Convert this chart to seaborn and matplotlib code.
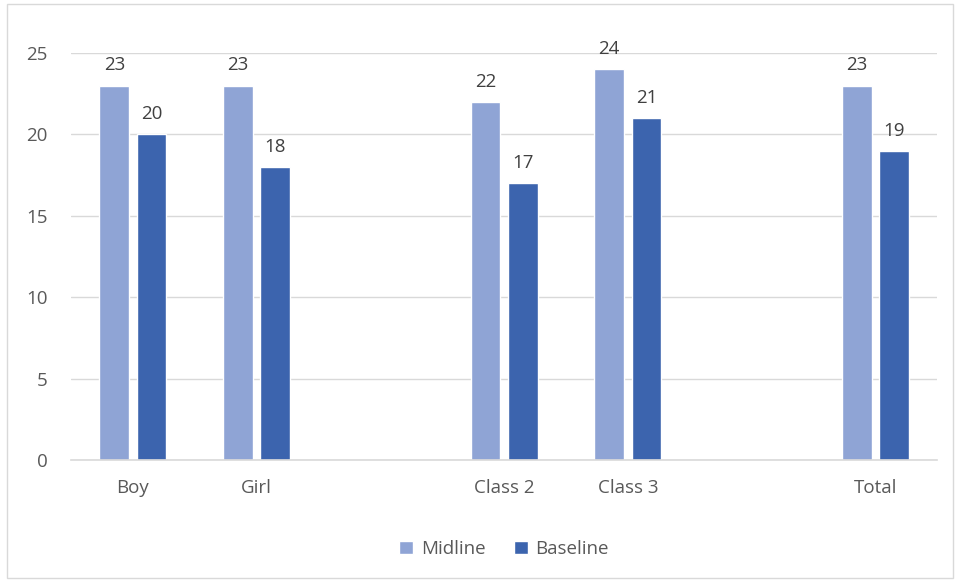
import pandas as pd
import seaborn as sns
import matplotlib.pyplot as plt
from matplotlib.patches import Rectangle

categories = ["Boy", "Girl", "Class 2", "Class 3", "Total"]
midline = [23, 23, 22, 24, 23]
baseline = [20, 18, 17, 21, 19]
# blank slots between groups, as in the original layout
order = ["Boy", "Girl", " ", "Class 2", "Class 3", "  ", "Total"]

df = pd.DataFrame({
    "category": categories * 2,
    "value": midline + baseline,
    "series": ["Midline"] * 5 + ["Baseline"] * 5,
})

sns.set_theme(style="white")
plt.rcParams["font.family"] = ["Open Sans", "DejaVu Sans"]

fig = plt.figure(figsize=(9.56, 5.80), dpi=100)
ax = fig.add_axes([0.0743, 0.2069, 0.906, 0.7017])

sns.barplot(data=df, x="category", y="value", hue="series", order=order,
            hue_order=["Midline", "Baseline"],
            palette=["#8FA4D5", "#3C64AE"], width=0.6, gap=0.2,
            saturation=1, ax=ax, legend=True)

for cont in ax.containers:
    ax.bar_label(cont, padding=8, fontsize=13.5, color="#404040")

ax.set_ylim(0, 25)
ax.set_yticks([0, 5, 10, 15, 20, 25])
ax.set_xlim(-0.5, len(order) - 0.5)
ax.yaxis.grid(True, color="#D9D9D9", linewidth=1)
ax.set_axisbelow(True)
for s in ["top", "right", "left"]:
    ax.spines[s].set_visible(False)
ax.spines["bottom"].set_color("#D9D9D9")
ax.spines["bottom"].set_linewidth(1.2)
ax.tick_params(axis="y", length=0, pad=17, labelsize=13.5, labelcolor="#595959")
ax.tick_params(axis="x", length=0, pad=14, labelsize=13.5, labelcolor="#595959")
ax.set_xlabel("")
ax.set_ylabel("")

ax.legend(loc="upper center", bbox_to_anchor=(0.5, -0.155), ncol=2, frameon=False,
          fontsize=13.5, labelcolor="#595959", handlelength=0.75, handleheight=0.75,
          handletextpad=0.4, columnspacing=1.5)

fig.patches.append(Rectangle((0.007, 0.003), 0.99, 0.99, transform=fig.transFigure,
                             fill=False, edgecolor="#D9D9D9", linewidth=1))

plt.savefig("out.png", dpi=100)
